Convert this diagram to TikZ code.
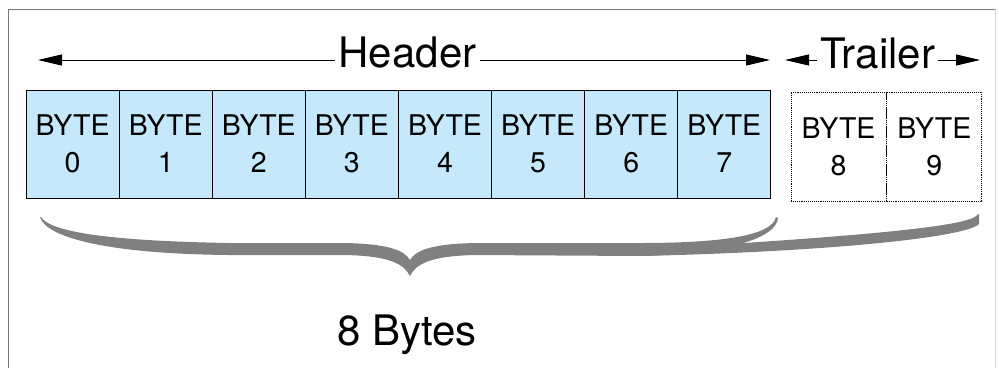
\documentclass[tikz,border=0pt]{standalone}
\usepackage{fontspec}
\setmainfont{TeX Gyre Heros}
\usepackage{xcolor}
\usetikzlibrary{arrows.meta,positioning}

\definecolor{bytefill}{RGB}{197,232,251}
\definecolor{bracegray}{RGB}{128,128,128}
\definecolor{framegray}{RGB}{120,120,120}

\tikzset{
  bytebox/.style={draw=black,line width=0.9pt,fill=bytefill,minimum width=93.1pt,
    minimum height=108pt,inner sep=0pt,align=center,font=\fontsize{28.5}{37}\selectfont},
  trailbox/.style={bytebox,fill=white,densely dotted,minimum width=95pt,minimum height=109pt},
  lbl/.style={font=\fontsize{42}{48}\selectfont,inner sep=3pt},
  arr/.style={line width=0.9pt,-{Triangle[length=24pt,width=11pt]}}
}

\begin{document}
\begin{tikzpicture}[x=1pt,y=-1pt]
  \useasboundingbox (0,0) rectangle (999,368);
  % frame
  \draw[framegray,line width=1pt] (8,368) -- (8,9) -- (995,9);
  \draw[framegray!30,line width=1pt] (995,9) -- (995,368);

  % header bytes
  \foreach \i in {0,...,7}
    \node[bytebox] (b\i) at ({72.6+93.1*\i},144) {BYTE\\\i};
  % trailer bytes
  \node[trailbox] (b8) at (838.5,146.5) {BYTE\\8};
  \node[trailbox,right=0pt of b8] (b9) {BYTE\\9};

  % labels with arrows
  \node[lbl,anchor=base] (hdr) at (407.5,67) {Header};
  \coordinate (hl) at (38,60);
  \coordinate (hr) at (770,60);
  \draw[arr] (hdr.west |- hl) -- (hl);
  \draw[arr] (hdr.east |- hr) -- (hr);

  \node[lbl,anchor=base] (trl) at (877.5,68) {Trailer};
  \coordinate (tl) at (785,60);
  \coordinate (tr) at (980,60);
  \draw[arr] (trl.west |- tl) -- (tl);
  \draw[arr] (trl.east |- tr) -- (tr);

  % brace
  \fill[bracegray] (40,217)
    .. controls (46,238) and (110,254) .. (230,255)
    -- (345,255)
    .. controls (390,256) and (404,264) .. (410,276)
    .. controls (416,264) and (430,256) .. (475,255)
    -- (640,256)
    .. controls (720,254) and (776,240) .. (778,218)
    -- (776,217)
    .. controls (772,236) and (720,243) .. (640,243)
    -- (475,243)
    .. controls (432,244) and (416,250) .. (410,260)
    .. controls (404,250) and (388,244) .. (345,243)
    -- (230,243)
    .. controls (110,241) and (50,232) .. (41,217)
    -- cycle;
  \fill[bracegray] (640,256)
    .. controls (820,252) and (965,238) .. (979,224)
    -- (979,214) -- (977,215)
    .. controls (970,228) and (820,238) .. (700,246)
    -- cycle;

  \node[lbl,anchor=base] (cnt) at (407,345) {8 Bytes};
\end{tikzpicture}
\end{document}
